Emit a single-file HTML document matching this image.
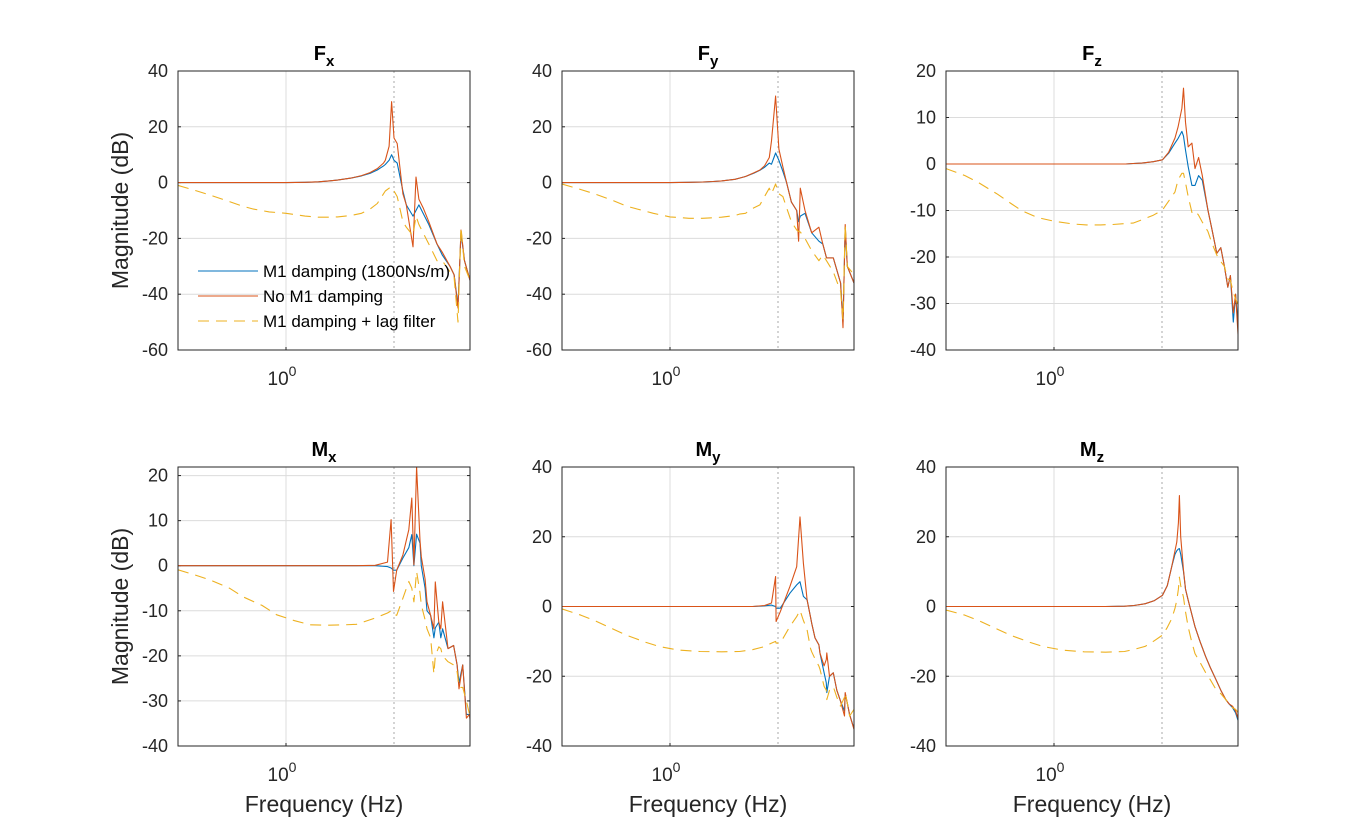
<!DOCTYPE html>
<html><head><meta charset="utf-8">
<style>
html,body{margin:0;padding:0;background:#fff;}
svg{display:block;font-family:"Liberation Sans",Arial,sans-serif;}
</style></head>
<body>
<svg id="fig" width="1368" height="840" viewBox="0 0 1368 840" xmlns="http://www.w3.org/2000/svg"></svg>
<script>
// ---- Fx ----
const fxFreq=[0.1,0.15,0.2,0.3,0.4,0.5,0.7,1,1.5,2,2.5,3,4,5,6,7,8,8.3,9,9.5,10,10.7,12.1,13,15,16,17,18.6,21,25,28,33,36,39.1,41.7,45,50.6];
const fxDamped=[0,0,0,0,0,0,0,0,0.1,0.3,0.6,0.9,1.6,2.4,3.3,4.5,6,6.5,8,10,8,7,-3,-8,-12,-10,-8,-11,-15,-22,-26,-30,-33,-44,-18,-28,-35];
const fxUndamped=[0,0,0,0,0,0,0,0,0.1,0.3,0.6,0.9,1.6,2.5,3.6,5,7,8,13,29,16,14,-4,-8,-23,2,-6,-9,-14,-22,-25,-30,-33,-45,-17,-28,-35];
const fxLag=[-1,-3,-4.5,-6.8,-8.5,-9.5,-10.5,-11,-12,-12.4,-12.4,-12.3,-11.8,-11,-9.5,-7.5,-4,-3,-2,-1.5,-3,-5,-14,-16,-19,-12,-15,-18,-22,-28,-28,-32,-34,-50,-16,-30,-35];
// ---- Fy ----
const fyFreq=[0.1,0.15,0.2,0.3,0.4,0.5,0.7,1,1.5,2,2.5,3,4,4.4,5,6,6.8,7.5,8.3,8.7,9.5,10.2,11.1,12,13.3,14.9,15.5,16.1,17.8,20.5,23.9,26,28.1,32.5,38,40,41.9,43.8,50.6];
const fyDamped=[0,0,0,0,0,0,0,0,0.1,0.2,0.4,0.6,1.2,1.6,2.2,3.4,4.4,5.5,7,6.6,10.6,8,4,0,-7,-10,-14,-12,-11,-18,-21,-22,-27,-27,-36,-50,-16,-30,-36];
const fyUndamped=[0,0,0,0,0,0,0,0,0.1,0.2,0.4,0.6,1.2,1.6,2.2,3.5,4.5,6,9,15,31,12,5.6,0,-7,-10,-21,-2,-10,-18,-16,-22,-27,-27,-36,-52,-15,-30,-36];
const fyLag=[-0.5,-2.5,-4,-6.5,-8.5,-9.5,-11,-12.3,-12.8,-12.8,-12.6,-12.4,-11.8,-11.3,-11,-9,-8,-5,-2,-4,-0.5,-4,-5,-9,-14,-17,-17.5,-17.7,-20,-24.4,-28,-26,-28,-32,-39,-49,-15,-30,-33];
// ---- Fz ----
const fzFreq=[0.1,0.15,0.2,0.3,0.4,0.5,0.7,1,1.5,2,2.7,3.5,4.6,5.4,6.5,8.3,10.1,11.5,13.2,14.1,15.3,15.8,16.5,17.5,18.9,20.2,21.8,23.6,26.6,29,32.2,35,37.8,40.7,43,45.7,48,51];
const fzDamped=[0,0,0,0,0,0,0,0,0,0,0,0,0,0.1,0.2,0.5,0.9,2.3,4.5,5.5,7,6,3,-0.6,-4.6,-4.6,-2.5,-3.5,-9.9,-14,-19.2,-18,-22,-26.5,-24,-34,-28,-36];
const fzUndamped=[0,0,0,0,0,0,0,0,0,0,0,0,0,0.1,0.2,0.5,0.9,2.5,5.6,8,12,16.3,9,3.7,4.5,-1,1.4,-2.5,-9.9,-14,-19.2,-18,-22,-26.5,-24,-32,-28,-38];
const fzLag=[-1,-2.5,-4,-6.5,-8.5,-10,-11.5,-12.3,-12.9,-13.1,-13.1,-13,-12.8,-12.7,-12,-11,-9.9,-8,-6,-3.4,-2,-2,-4,-7,-10.4,-10,-11,-12.5,-14.5,-17,-19.6,-21,-22,-24.7,-25,-27.6,-29,-30.4];
// ---- Mx ----
const mxFreq=[0.1,0.15,0.2,0.3,0.4,0.6,0.82,1.2,1.67,2.5,3.5,4.5,6.7,8.7,9.4,9.9,10.6,12.1,13.7,14.6,15.3,16.2,17.4,17.9,19.4,20.2,21.8,23.4,24.1,26,27.1,28.2,31.6,35.6,38.4,40,43.3,46.8,50,52];
const mxDamped=[0,0,0,0,0,0,0,0,0,0,0,0,0,-0.2,-0.5,-1,-1,1.7,4,6.9,0,7,5,0,-5,-10,-11,-16,-13.8,-12.5,-16,-14,-18.4,-17.7,-22,-26,-22,-33,-33,-36];
const mxUndamped=[0,0,0,0,0,0,0,0,0,0,0,0,0.1,0.8,10.2,-5.7,-1,2.4,8,15,0.2,21.9,5.6,2,-3,-8,-11,-14,-3.6,-12.5,-14,-8,-18.4,-17.7,-22,-27.3,-22,-33.8,-33,-37];
const mxLag=[-0.9,-2.2,-3.2,-5,-6.9,-8.8,-10.9,-12.2,-13.1,-13.2,-13.1,-13,-11.6,-10.5,-10,-10.8,-11,-7.2,-3.5,-5,-8,-1.3,-6,-8.7,-12,-14,-16,-24,-20,-18,-18.4,-20,-21.3,-22,-23.5,-27,-27,-30,-33,-34.5];
// ---- My ----
const myFreq=[0.1,0.15,0.2,0.3,0.4,0.6,0.8,1.2,1.9,3,4.4,5.8,7.5,8.7,9.5,9.6,10.5,12.9,14.9,16,17.2,18.6,20,20.5,22,23.9,24.5,26.7,28,28.3,30,32.5,35,37.8,41.3,41.9,44,46,50.6];
const myDamped=[0,0,0,0,0,0,0,0,0,0,0,0,0.2,0.4,0,-0.5,-0.5,3.8,6.2,7.1,2.9,1.9,-3,-4.8,-9,-11,-13.4,-19,-21.9,-24.7,-20,-19,-24,-27,-30,-25,-28,-31,-35];
const myUndamped=[0,0,0,0,0,0,0,0,0,0,0,0,0.3,1,8.6,-4.3,-1.5,5.7,11.4,25.7,12.4,1.9,-3,-4.8,-9,-11,-13.4,-17,-15.2,-13.3,-20,-19,-24,-27,-31.4,-24.7,-28,-31,-35.2];
const myLag=[-0.7,-2.5,-4,-6.5,-8.3,-10.3,-11.5,-12.5,-12.9,-13,-12.9,-12.4,-11.5,-10.5,-10,-10.5,-10.5,-5.7,-2.9,-1.1,-4,-6.7,-12,-13,-15,-17.1,-18,-22.9,-24,-26.7,-24,-23,-26,-28.6,-26,-24.8,-28,-31.4,-29.5];
// ---- Mz ----
const mzFreq=[0.1,0.15,0.2,0.3,0.4,0.6,0.8,1.2,1.9,3,4.5,5.5,7,8.5,10.1,11.2,12.3,13.2,13.7,14.2,14.5,14.9,15.8,16.5,17.5,18.8,20.2,22.5,25.4,28,31.6,35,39,42,45,48,51];
const mzDamped=[0,0,0,0,0,0,0,0,0,0,0.1,0.3,0.8,1.7,3.2,6,11.4,15,16,16.5,16.6,15,10,5,1.8,-2,-5.8,-10,-14.4,-17.5,-21,-24,-26.7,-28,-29,-30.5,-33];
const mzUndamped=[0,0,0,0,0,0,0,0,0,0,0.1,0.3,0.8,1.7,3.2,6,11.4,16,18.5,24,31.8,20,10.4,5,1.8,-2,-5.8,-10,-14.4,-17.5,-21,-24,-26.7,-28,-28.6,-30,-32.4];
const mzLag=[-1,-2.5,-4,-6.5,-8.3,-10.3,-11.5,-12.5,-13,-13.1,-12.9,-12.3,-11.4,-9.8,-8.2,-6,-3.5,-0.5,1.8,5,8.4,6,2.6,-1.5,-5.9,-10,-13.5,-16,-19,-21,-23.8,-25,-26.7,-28,-29,-29.5,-30.5];
// ---- ticks ----
const ticksF=[40,20,0,-20,-40,-60];
const ticksFz=[20,10,0,-10,-20,-30,-40];
const ticksMx=[20,10,0,-10,-20,-30,-40];
const ticksM=[40,20,0,-20,-40];
const legendLabels=["M1 damping (1800Ns/m)","No M1 damping","M1 damping + lag filter"];

const NS="http://www.w3.org/2000/svg";
const svg=document.getElementById('fig');
function mk(tag,attrs,parent){const e=document.createElementNS(NS,tag);for(const k in attrs)e.setAttribute(k,attrs[k]);(parent||svg).appendChild(e);return e;}

const panels=[
 {key:'fx',name:'F',sub:'x',L:178,T:71,freq:fxFreq,d:fxDamped,u:fxUndamped,l:fxLag,ymin:-60,ymax:40,ticks:ticksF,ylab:true,xlab:false,legend:true},
 {key:'fy',name:'F',sub:'y',L:562,T:71,freq:fyFreq,d:fyDamped,u:fyUndamped,l:fyLag,ymin:-60,ymax:40,ticks:ticksF},
 {key:'fz',name:'F',sub:'z',L:946,T:71,freq:fzFreq,d:fzDamped,u:fzUndamped,l:fzLag,ymin:-40,ymax:20,ticks:ticksFz},
 {key:'mx',name:'M',sub:'x',L:178,T:467,freq:mxFreq,d:mxDamped,u:mxUndamped,l:mxLag,ymin:-40,ymax:21.9,ticks:ticksMx,ylab:true,xlab:true},
 {key:'my',name:'M',sub:'y',L:562,T:467,freq:myFreq,d:myDamped,u:myUndamped,l:myLag,ymin:-40,ymax:40,ticks:ticksM,xlab:true},
 {key:'mz',name:'M',sub:'z',L:946,T:467,freq:mzFreq,d:mzDamped,u:mzUndamped,l:mzLag,ymin:-40,ymax:40,ticks:ticksM,xlab:true}
];
const W=292,H=279,FMIN=0.1,FMAX=Math.pow(10,292/108-1);

panels.forEach(p=>{
  const g=mk('g',{});
  
  
  const xs=f=>p.L+(Math.log10(f)-Math.log10(FMIN))/(Math.log10(FMAX)-Math.log10(FMIN))*W;
  const ys=v=>p.T+(p.ymax-v)/(p.ymax-p.ymin)*H;
  p.ticks.forEach(t=>{
    const y=ys(t);
    const gl=mk('line',{x1:p.L,x2:p.L+W,y1:y,y2:y,stroke:'#dcdcdc','stroke-width':1},g);
    
    
    mk('line',{x1:p.L,x2:p.L+3,y1:y,y2:y,stroke:'#262626','stroke-width':1},g);
    mk('line',{x1:p.L+W-3,x2:p.L+W,y1:y,y2:y,stroke:'#262626','stroke-width':1},g);
    const tl=mk('text',{x:p.L-10,y:y+6,'text-anchor':'end','font-size':18,fill:'#262626'},g);
    tl.textContent=String(t);
    
    
  });
  const x1=xs(1);
  mk('line',{x1:x1,x2:x1,y1:p.T,y2:p.T+H,stroke:'#dcdcdc','stroke-width':1},g);
  mk('line',{x1:x1,x2:x1,y1:p.T+H,y2:p.T+H-3,stroke:'#262626','stroke-width':1},g);
  const x10=xs(10);
  const dl=mk('line',{x1:x10,x2:x10,y1:p.T,y2:p.T+H,stroke:'#aaaaaa','stroke-width':1,'stroke-dasharray':'2,3'},g);
  
  
  const xt=mk('text',{x:x1-4,y:p.T+H+35,'text-anchor':'middle','font-size':19,fill:'#262626'},g);
  
  
  xt.innerHTML='10<tspan dy="-9" font-size="14">0</tspan>';
  const clipId='clip-'+p.key;
  const cp=mk('clipPath',{id:clipId},g);
  mk('rect',{x:p.L,y:p.T,width:W,height:H},cp);
  const series=[[p.d,'#0072BD',null,'damped-line'],[p.u,'#D95319',null,'undamped-line'],[p.l,'#EDB120','11,7','lag-filter-line']];
  series.forEach(([vals,col,dash,nm])=>{
    const n=Math.min(vals.length,p.freq.length);
    let dstr='';
    for(let i=0;i<n;i++){dstr+=(i?'L':'M')+xs(p.freq[i]).toFixed(1)+','+ys(vals[i]).toFixed(1);}
    const a={d:dstr,fill:'none',stroke:col,'stroke-width':1.1,'clip-path':'url(#'+clipId+')','stroke-linejoin':'round'};
    if(dash)a['stroke-dasharray']=dash;
    const pe=mk('path',a,g);
    
    
  });
  const box=mk('rect',{x:p.L,y:p.T,width:W,height:H,fill:'none',stroke:'#262626','stroke-width':1},g);
  
  
  const ti=mk('text',{x:p.L+W/2,y:p.T-11,'text-anchor':'middle','font-size':20,'font-weight':'bold',fill:'#000'},g);
  
  
  ti.innerHTML=p.name+'<tspan dy="6" font-size="15">'+p.sub+'</tspan>';
  if(p.ylab){
    const yl=mk('text',{x:0,y:0,transform:'translate(128,'+(p.T+H/2)+') rotate(-90)','text-anchor':'middle','font-size':23,fill:'#262626'},g);
    yl.textContent='Magnitude (dB)';
    
    
  }
  if(p.xlab){
    const xl=mk('text',{x:p.L+W/2,y:p.T+H+66,'text-anchor':'middle','font-size':23,fill:'#262626'},g);
    xl.textContent='Frequency (Hz)';
    
    
  }
  if(p.legend){
    const lg=mk('g',{},g);
    
    
    const cols=['#0072BD','#D95319','#EDB120'];
    legendLabels.forEach((lab,i)=>{
      const y=271+i*25;
      const ln=mk('line',{x1:198,x2:258,y1:y,y2:y,stroke:cols[i],'stroke-width':1.1},lg);
      if(i===2)ln.setAttribute('stroke-dasharray','11,7');
      const t=mk('text',{x:263,y:y+6,'font-size':17,fill:'#000'},lg);
      t.textContent=lab;
      
      
    });
  }
});
</script>
</body></html>
